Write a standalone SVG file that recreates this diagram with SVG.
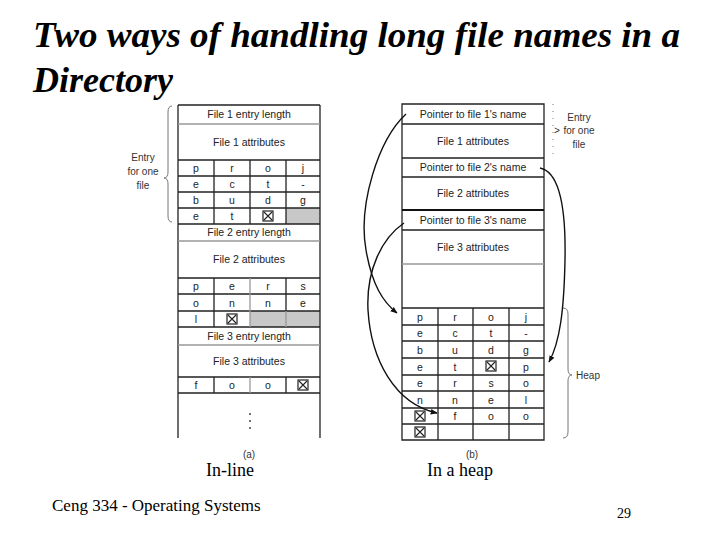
<svg xmlns="http://www.w3.org/2000/svg" width="720" height="540" viewBox="0 0 720 540">
<style>
.title{font-family:"Liberation Serif",serif;font-style:italic;font-weight:bold;font-size:36px;fill:#000}
.serif{font-family:"Liberation Serif",serif;fill:#000}
.t{font-family:"Liberation Sans",Arial,sans-serif;font-size:10.5px;fill:#222;text-anchor:middle}
.lbl{font-family:"Liberation Sans",Arial,sans-serif;font-size:10px;fill:#333;text-anchor:middle}
.ln{stroke:#222;stroke-width:1.3;fill:none}
.lg{stroke:#999;stroke-width:1.3;fill:none}
.gc{fill:#c8c8c8}
.br{stroke:#777;stroke-width:1;fill:none}
.arr{stroke:#111;stroke-width:1.4;fill:none;marker-end:url(#ah)}
</style>
<defs>
<marker id="ah" viewBox="0 0 10 10" refX="9" refY="5" markerWidth="7" markerHeight="7" orient="auto" markerUnits="userSpaceOnUse">
<path d="M0,1 L10,5 L0,9 z" fill="#111"/>
</marker>
<g id="xb"><rect x="-5" y="-5" width="10" height="10" fill="#fff" stroke="#222" stroke-width="1.2"/><path d="M-4,-4 L4,4 M4,-4 L-4,4" stroke="#222" stroke-width="1.1"/></g>
</defs>
<rect width="720" height="540" fill="#fff"/>
<text class="title" x="33" y="47" textLength="647" lengthAdjust="spacingAndGlyphs">Two ways of handling long file names in a</text>
<text class="title" x="33" y="92">Directory</text>

<!-- (a) In-line -->
<g id="inline-table">
<rect class="gc" x="286" y="208" width="34" height="16"/>
<rect class="gc" x="250" y="311" width="70" height="16"/>
<path class="ln" d="M178,105 H320 M178,105 V438 M320,105 V438"/>
<path class="lg" d="M178,124 H320"/>
<path class="ln" d="M178,160 H320 M178,176 H320 M178,192 H320 M178,208 H320 M178,224 H320"/>
<path class="ln" d="M214,160 V224 M250,160 V224 M286,160 V224"/>
<path class="lg" d="M178,241 H320"/>
<path class="ln" d="M178,278 H320 M178,294 H320 M178,311 H320 M178,327 H320"/>
<path class="ln" d="M214,278 V327 M286,278 V311"/>
<path class="lg" d="M250,278 V327 M286,311 V327"/>
<path class="lg" d="M178,345 H320"/>
<path class="ln" d="M178,377 H320 M178,393 H320 M214,377 V393 M286,377 V393"/>
<path class="lg" d="M250,377 V393"/>
<text class="t" x="249" y="118">File 1 entry length</text>
<text class="t" x="249" y="146">File 1 attributes</text>
<text class="t" x="196" y="172">p</text><text class="t" x="232" y="172">r</text><text class="t" x="268" y="172">o</text><text class="t" x="303" y="172">j</text>
<text class="t" x="196" y="188">e</text><text class="t" x="232" y="188">c</text><text class="t" x="268" y="188">t</text><text class="t" x="303" y="188">-</text>
<text class="t" x="196" y="204">b</text><text class="t" x="232" y="204">u</text><text class="t" x="268" y="204">d</text><text class="t" x="303" y="204">g</text>
<text class="t" x="196" y="220">e</text><text class="t" x="232" y="220">t</text><use href="#xb" x="268" y="216"/>
<text class="t" x="249" y="236">File 2 entry length</text>
<text class="t" x="249" y="263">File 2 attributes</text>
<text class="t" x="196" y="290">p</text><text class="t" x="232" y="290">e</text><text class="t" x="268" y="290">r</text><text class="t" x="303" y="290">s</text>
<text class="t" x="196" y="307">o</text><text class="t" x="232" y="307">n</text><text class="t" x="268" y="307">n</text><text class="t" x="303" y="307">e</text>
<text class="t" x="196" y="323">l</text><use href="#xb" x="232" y="319"/>
<text class="t" x="249" y="340">File 3 entry length</text>
<text class="t" x="249" y="365">File 3 attributes</text>
<text class="t" x="196" y="389">f</text><text class="t" x="232" y="389">o</text><text class="t" x="268" y="389">o</text><use href="#xb" x="303" y="385"/>
<circle cx="250" cy="414" r="0.9" fill="#333"/><circle cx="250" cy="421" r="0.9" fill="#333"/><circle cx="250" cy="428" r="0.9" fill="#333"/>
<text class="lbl" x="249" y="458">(a)</text>
</g>
<g id="inline-brace">
<path class="br" d="M172,106 Q168,106 168,112 V172 Q168,178 164,178 Q168,178 168,184 V216 Q168,222 172,222"/>
<text class="lbl" x="143" y="161">Entry</text>
<text class="lbl" x="143" y="175">for one</text>
<text class="lbl" x="143" y="189">file</text>
</g>

<!-- (b) In a heap -->
<g id="heap-table">
<path class="ln" d="M402,104 H544 V440 H402 Z"/>
<path class="ln" d="M402,124 H544 M402,158 H544 M402,177 H544 M402,230 H544"/>
<path d="M402,210 H544" stroke="#111" stroke-width="2"/>
<path class="lg" d="M402,264 H544"/>
<path class="ln" d="M402,308 H544 M402,325 H544 M402,341 H544 M402,358 H544 M402,375 H544 M402,391 H544 M402,408 H544 M402,424 H544"/>
<path class="ln" d="M438,308 V440 M473,308 V440 M509,308 V440"/>
<text class="t" x="473" y="118">Pointer to file 1's name</text>
<text class="t" x="473" y="145">File 1 attributes</text>
<text class="t" x="473" y="171">Pointer to file 2's name</text>
<text class="t" x="473" y="197">File 2 attributes</text>
<text class="t" x="473" y="224">Pointer to file 3's name</text>
<text class="t" x="473" y="251">File 3 attributes</text>
<text class="t" x="420" y="321">p</text><text class="t" x="455" y="321">r</text><text class="t" x="491" y="321">o</text><text class="t" x="526" y="321">j</text>
<text class="t" x="420" y="337">e</text><text class="t" x="455" y="337">c</text><text class="t" x="491" y="337">t</text><text class="t" x="526" y="337">-</text>
<text class="t" x="420" y="354">b</text><text class="t" x="455" y="354">u</text><text class="t" x="491" y="354">d</text><text class="t" x="526" y="354">g</text>
<text class="t" x="420" y="371">e</text><text class="t" x="455" y="371">t</text><use href="#xb" x="491" y="366"/><text class="t" x="526" y="371">p</text>
<text class="t" x="420" y="387">e</text><text class="t" x="455" y="387">r</text><text class="t" x="491" y="387">s</text><text class="t" x="526" y="387">o</text>
<text class="t" x="420" y="404">n</text><text class="t" x="455" y="404">n</text><text class="t" x="491" y="404">e</text><text class="t" x="526" y="404">l</text>
<use href="#xb" x="420" y="416"/><text class="t" x="455" y="420">f</text><text class="t" x="491" y="420">o</text><text class="t" x="526" y="420">o</text>
<use href="#xb" x="420" y="432"/>
<text class="lbl" x="472" y="458">(b)</text>
</g>
<g id="entry-brace">
<path class="br" stroke-dasharray="1 6" d="M553,104 V158"/>
<text class="lbl" x="579" y="121">Entry</text>
<text class="lbl" x="579" y="134">for one</text>
<text class="lbl" x="579" y="148">file</text>
<text class="lbl" x="557" y="134">&gt;</text>
</g>
<g id="heap-brace">
<path class="br" d="M563,308 Q568,308 568,314 V369 Q568,375 572,375 Q568,375 568,381 V432 Q568,438 563,438"/>
<text class="lbl" x="588" y="379">Heap</text>
</g>

<g id="connectors">
<path class="arr" d="M406,114 C378,140 358,205 366,250 C372,285 383,302 397,313"/>
<path class="arr" d="M540,168 C560,172 566,210 565,260 C564,310 560,342 549,362"/>
<path class="arr" d="M404,223 C382,238 366,270 368,310 C371,360 395,404 437,413"/>
</g>

<text class="serif" x="230" y="476" font-size="18" text-anchor="middle">In-line</text>
<text class="serif" x="460" y="476" font-size="18" text-anchor="middle">In a heap</text>
<text class="serif" x="52" y="511" font-size="17">Ceng 334 - Operating Systems</text>
<text class="serif" x="617" y="518" font-size="14">29</text>
</svg>
